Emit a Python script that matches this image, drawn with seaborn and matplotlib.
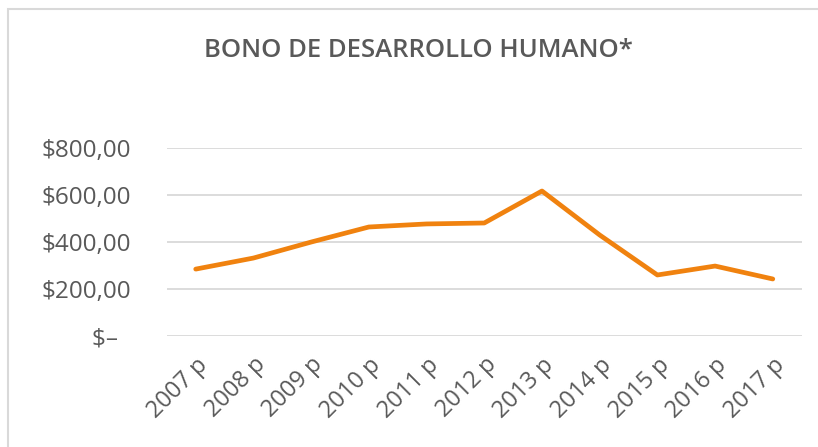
import matplotlib
matplotlib.use("Agg")
import matplotlib.pyplot as plt
import seaborn as sns
import pandas as pd
from matplotlib.patches import Rectangle

years = ["2007 p", "2008 p", "2009 p", "2010 p", "2011 p", "2012 p",
         "2013 p", "2014 p", "2015 p", "2016 p", "2017 p"]
bono = [285, 332, 400, 464, 477, 481, 617, 430, 260, 298, 243]
yticks = [0, 200, 400, 600, 800]
ytick_labels = ["$\u2013  ", "$200,00", "$400,00", "$600,00", "$800,00"]

df = pd.DataFrame({"year": years, "bono": bono})

sns.set_style("white")
plt.rcParams["font.family"] = ["Open Sans", "DejaVu Sans"]

fig = plt.figure(figsize=(8.18, 4.47), dpi=100)
ax = fig.add_axes([0.204, 0.248, 0.776, 0.421])

sns.lineplot(data=df, x="year", y="bono", ax=ax, color="#F0820F",
             linewidth=3.4, sort=False)
ax.lines[0].set_solid_capstyle("round")

ax.set_xlim(-0.5, len(years) - 0.5)
ax.set_ylim(0, 800)
ax.set_yticks(yticks)
ax.set_yticklabels(ytick_labels)
ax.yaxis.grid(True, color="#d9d9d9", linewidth=1.3)
ax.set_axisbelow(True)
for s in ax.spines.values():
    s.set_visible(False)
ax.set_xlabel("")
ax.set_ylabel("")
ax.tick_params(axis="y", length=0, pad=26, labelsize=17.5, labelcolor="#595959")
ax.tick_params(axis="x", length=0, pad=12, labelsize=17, labelcolor="#595959")
for lab in ax.get_xticklabels():
    lab.set_rotation(45)
    lab.set_ha("right")
    lab.set_rotation_mode("anchor")

fig.text(0.512, 0.888, "BONO DE DESARROLLO HUMANO*", ha="center", va="center",
         fontsize=18.5, color="#595959", fontweight="semibold")

fig.patches.append(Rectangle((0.01, -0.1), 1.2, 1.08, transform=fig.transFigure,
                             fill=False, edgecolor="#d9d9d9", linewidth=1.5))

fig.savefig("out.png", dpi=100)
